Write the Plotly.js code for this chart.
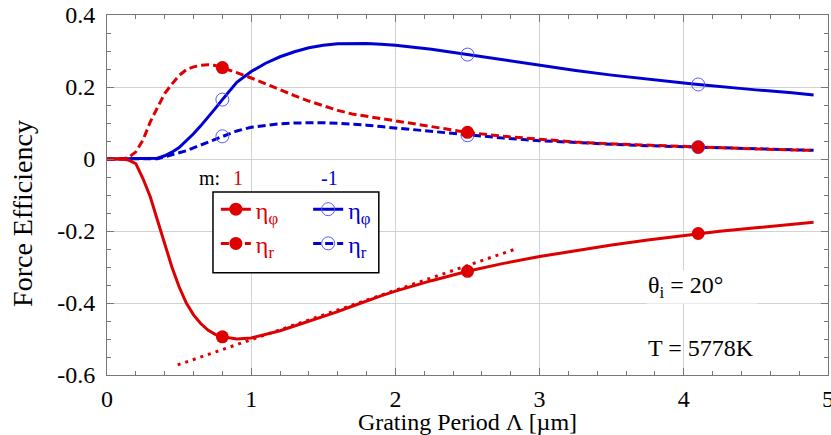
<!DOCTYPE html>
<html>
<head>
<meta charset="utf-8">
<script src="https://cdn.plot.ly/plotly-3.0.1.min.js"></script>
<style>
html,body{margin:0;padding:0;background:#fff;}
#chart{width:831px;height:435px;}
</style>
</head>
<body>
<div id="chart"></div>
<script>
// Grating period (µm)
const period = [0,0.1,0.15,0.2,0.25,0.3,0.35,0.4,0.45,0.5,0.55,0.6,0.65,0.7,0.75,0.8,0.9,1.0,1.1,1.2,1.3,1.4,1.5,1.6,1.7,1.8,1.9,2.0,2.25,2.5,2.75,3.0,3.25,3.5,3.75,4.0,4.1,4.25,4.5,4.75,4.9];
// m = 1, eta_phi (red solid)
const etaPhiM1 = [0,0,-0.003,-0.013,-0.055,-0.105,-0.17,-0.235,-0.3,-0.355,-0.4,-0.433,-0.457,-0.475,-0.487,-0.494,-0.5,-0.497,-0.488,-0.477,-0.464,-0.451,-0.438,-0.424,-0.409,-0.394,-0.38,-0.367,-0.338,-0.312,-0.29,-0.271,-0.254,-0.239,-0.225,-0.213,-0.207,-0.201,-0.191,-0.182,-0.176];
// m = 1, eta_r (red dashed)
const etaRM1 = [0,0,0.004,0.02,0.053,0.103,0.143,0.182,0.208,0.232,0.248,0.256,0.26,0.262,0.26,0.254,0.24,0.225,0.208,0.191,0.176,0.161,0.147,0.135,0.125,0.118,0.112,0.106,0.09,0.074,0.063,0.054,0.047,0.042,0.038,0.035,0.033,0.031,0.028,0.025,0.024];
// m = -1, eta_phi (blue solid)
const etaPhiMm1 = [0,0,0,0,0,0,0.002,0.009,0.019,0.032,0.05,0.07,0.092,0.115,0.14,0.165,0.213,0.243,0.266,0.284,0.298,0.309,0.316,0.32,0.321,0.321,0.319,0.316,0.305,0.29,0.275,0.26,0.246,0.233,0.221,0.211,0.207,0.201,0.192,0.184,0.178];
// m = -1, eta_r (blue dashed)
const etaRMm1 = [0,0,0,0,0,0,0.001,0.006,0.011,0.016,0.023,0.031,0.039,0.046,0.055,0.063,0.078,0.088,0.094,0.098,0.1,0.101,0.101,0.099,0.097,0.094,0.09,0.086,0.076,0.066,0.058,0.051,0.045,0.041,0.037,0.034,0.033,0.031,0.028,0.026,0.024];
// periods marked with symbols
const markedPeriods = [0.8, 2.5, 4.1];
// straight dotted reference line (end points)
const refLineX = [0.49, 2.834];
const refLineY = [-0.572, -0.25];

const xTickVals = [0,1,2,3,4,5];
const xTickText = ['0','1','2','3','4','5'];
const yTickVals = [-0.6,-0.4,-0.2,0,0.2,0.4];
const yTickText = ['-0.6','-0.4','-0.2','0','0.2','0.4'];

const RED = 'rgb(222,0,0)';
const BLUE = 'rgb(0,0,210)';
const FONT = 'Liberation Serif';

const sel = period.map((p,i)=> markedPeriods.indexOf(p) >= 0 ? i : -1).filter(i=>i>=0);

function series(y, color, dash, filled, name, legend, group){
  return {
    x: period, y: y, type:'scatter', mode:'lines+markers', name:name,
    legend: legend, legendgroup: group,
    line:{color:color, width:3, dash:dash},
    marker: filled ? {symbol:'circle', size:13, color:color}
                   : {symbol:'circle-open', size:13, color:'rgb(90,90,255)', line:{width:1}},
    selectedpoints: sel,
    selected:{marker:{opacity:1}},
    unselected:{marker:{opacity:0}},
    hoverinfo:'skip'
  };
}

const traces = [
  {x: refLineX, y: refLineY, type:'scatter', mode:'lines', showlegend:false,
   line:{color:RED, width:3, dash:'3px,5px'}, hoverinfo:'skip'},
  series(etaPhiMm1, BLUE, 'solid', false, 'η<sub>φ</sub>', 'legend2', 'b1'),
  series(etaRMm1, BLUE, '8px,4px', false, 'η<sub>r</sub>', 'legend2', 'b2'),
  series(etaPhiM1, RED, 'solid', true, 'η<sub>φ</sub>', 'legend', 'r1'),
  series(etaRM1, RED, '8px,4px', true, 'η<sub>r</sub>', 'legend', 'r2')
];

const axisCommon = {
  ticks:'inside', ticklen:7, tickwidth:1, tickcolor:'#777',
  showline:true, linecolor:'#777', linewidth:1, mirror:'ticks',
  showgrid:true, gridcolor:'#d2d2d2', gridwidth:1, zeroline:false,
  ticklabeloverflow:'allow',
  tickfont:{family:FONT, size:24, color:'#000'}
};

const layout = {
  width:831, height:435,
  margin:{l:107, r:3, t:15, b:60},
  paper_bgcolor:'#fff', plot_bgcolor:'#fff',
  font:{family:FONT, color:'#000'},
  xaxis: Object.assign({}, axisCommon, {
    range:[0,5], tickmode:'array', tickvals:xTickVals, ticktext:xTickText,
    ticklabelstandoff:2,
    minor:{tickmode:'linear', tick0:0, dtick:0.2, ticks:'inside', ticklen:4, tickcolor:'#777', showgrid:false},
    title:{text:'Grating Period Λ [µm]', font:{family:FONT, size:24, color:'#000'}, standoff:1}
  }),
  yaxis: Object.assign({}, axisCommon, {
    range:[-0.6,0.4], tickmode:'array', tickvals:yTickVals, ticktext:yTickText,
    ticklabelstandoff:6,
    minor:{tickmode:'linear', tick0:0, dtick:0.05, ticks:'inside', ticklen:4, tickcolor:'#777', showgrid:false}
  }),
  legend:{x:0.151, xanchor:'left', y:0.522, yanchor:'top', bgcolor:'rgba(0,0,0,0)', borderwidth:0,
          traceorder:'grouped', tracegroupgap:0,
          font:{family:FONT, size:24, color:RED}},
  legend2:{x:0.279, xanchor:'left', y:0.522, yanchor:'top', bgcolor:'rgba(0,0,0,0)', borderwidth:0,
          traceorder:'grouped', tracegroupgap:0,
          font:{family:FONT, size:24, color:BLUE}},
  shapes:[{type:'rect', xref:'paper', yref:'paper', x0:0.147, x1:0.377, y0:0.284, y1:0.508,
           line:{color:'#000', width:1.5}, fillcolor:'#fff', layer:'above'}],
  annotations:[
    {text:'Force Efficiency', xref:'paper', yref:'paper', x:-0.118, y:0.45, xanchor:'center', yanchor:'middle',
     textangle:-90, showarrow:false, font:{family:FONT, size:28, color:'#000'}},
    {text:'m:', xref:'paper', yref:'paper', x:0.125, y:0.547, xanchor:'left', yanchor:'middle', showarrow:false,
     font:{family:FONT, size:20, color:'#000'}},
    {text:'1', xref:'paper', yref:'paper', x:0.181, y:0.547, xanchor:'center', yanchor:'middle', showarrow:false,
     font:{family:FONT, size:20, color:RED}},
    {text:'-1', xref:'paper', yref:'paper', x:0.309, y:0.547, xanchor:'center', yanchor:'middle', showarrow:false,
     font:{family:FONT, size:20, color:BLUE}},
    {text:'θ<sub>i</sub> = 20°', xref:'paper', yref:'paper', x:0.748, y:0.244, xanchor:'left', yanchor:'middle', showarrow:false,
     bgcolor:'#fff', width:108, align:'left', font:{family:FONT, size:24, color:'#000'}},
    {text:'T = 5778K', xref:'paper', yref:'paper', x:0.748, y:0.075, xanchor:'left', yanchor:'middle', showarrow:false,
     font:{family:FONT, size:24, color:'#000'}}
  ]
};

Plotly.newPlot('chart', traces, layout, {staticPlot:true, displayModeBar:false});
</script>
</body>
</html>
